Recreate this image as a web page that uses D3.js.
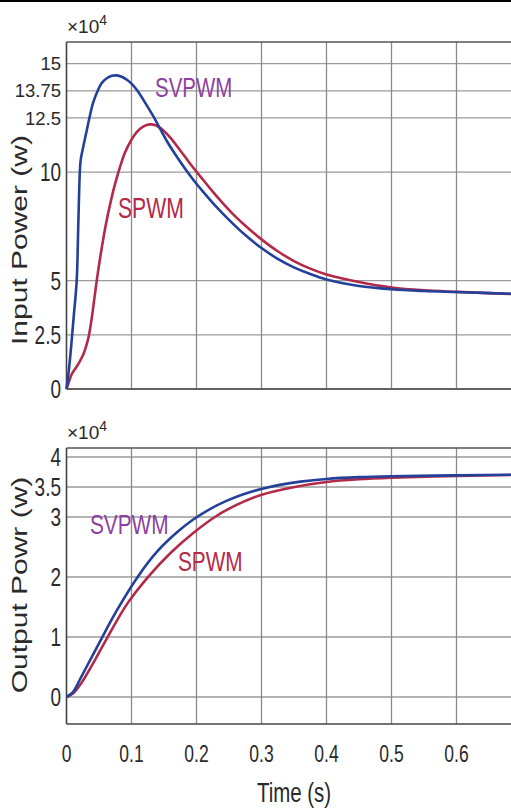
<!DOCTYPE html>
<html>
<head>
<meta charset="utf-8">
<script src="https://cdn.jsdelivr.net/npm/d3@7"></script>
<style>
  body { margin: 0; background: #fff; }
  text { font-family: "Liberation Sans", Arial, sans-serif; fill: #2a2a2a; }
</style>
</head>
<body>
<script>
// ---- data (power in units of 1e4 W) ----
const timeTicks = [0, 0.1, 0.2, 0.3, 0.4, 0.5, 0.6];
const inputTicks = [0, 2.5, 5, 10, 12.5, 13.75, 15];
const outputTicks = [0, 1, 2, 3, 3.5, 4];

const inSvpwmT = [0, 0.003, 0.007, 0.011, 0.0157, 0.018, 0.0205, 0.022, 0.026, 0.031, 0.036, 0.041, 0.048, 0.054, 0.062, 0.07, 0.077, 0.085, 0.093, 0.1, 0.11, 0.123, 0.135, 0.144, 0.155, 0.17, 0.185, 0.195, 0.21, 0.226, 0.25, 0.275, 0.3, 0.325, 0.349, 0.375, 0.4, 0.45, 0.5, 0.55, 0.6, 0.65, 0.7];
const inSvpwmV = [0, 0.7, 1.9, 3.3, 5.0, 7.4, 10.0, 10.6, 11.2, 11.9, 12.6, 13.2, 13.75, 14.1, 14.33, 14.44, 14.46, 14.4, 14.26, 14.08, 13.72, 13.1, 12.5, 12.0, 11.4, 10.7, 10.05, 9.65, 9.1, 8.55, 7.8, 7.1, 6.5, 6.0, 5.62, 5.3, 5.05, 4.75, 4.6, 4.52, 4.47, 4.42, 4.38];

const inSpwmT = [0, 0.004, 0.008, 0.015, 0.02, 0.026, 0.03, 0.034, 0.039, 0.043, 0.047, 0.052, 0.057, 0.062, 0.067, 0.072, 0.077, 0.083, 0.09, 0.1, 0.108, 0.118, 0.128, 0.138, 0.149, 0.16, 0.175, 0.19, 0.21, 0.225, 0.241, 0.26, 0.28, 0.3, 0.325, 0.35, 0.375, 0.4, 0.45, 0.5, 0.55, 0.6, 0.65, 0.7];
const inSpwmV = [0, 0.35, 0.68, 1.0, 1.25, 1.6, 1.95, 2.4, 3.3, 4.2, 5.1, 6.1, 7.0, 7.8, 8.5, 9.15, 9.7, 10.3, 10.9, 11.5, 11.85, 12.1, 12.2, 12.15, 11.92, 11.58, 11.0, 10.4, 9.65, 9.1, 8.55, 7.95, 7.4, 6.9, 6.35, 5.9, 5.55, 5.28, 4.93, 4.68, 4.55, 4.48, 4.42, 4.36];

const outSvpwmT = [0, 0.01, 0.021, 0.05, 0.077, 0.11, 0.14, 0.17, 0.195, 0.22, 0.246, 0.27, 0.298, 0.33, 0.36, 0.4, 0.45, 0.5, 0.6, 0.7];
const outSvpwmV = [0, 0.08, 0.3, 0.895, 1.435, 2.01, 2.43, 2.745, 2.958, 3.128, 3.268, 3.371, 3.463, 3.54, 3.59, 3.634, 3.664, 3.679, 3.694, 3.706];

const outSpwmT = [0, 0.01, 0.021, 0.04, 0.062, 0.093, 0.127, 0.16, 0.195, 0.23, 0.26, 0.298, 0.349, 0.4, 0.45, 0.5, 0.6, 0.7];
const outSpwmV = [0, 0.06, 0.203, 0.545, 0.974, 1.548, 2.02, 2.4, 2.733, 3.013, 3.193, 3.364, 3.497, 3.584, 3.629, 3.654, 3.684, 3.704];

const blue = "#23409a", red = "#b22a47", purple = "#8e3f9f";
const squeeze = 0.73;   // figure text looks horizontally compressed

const W = 511, H = 809;
const svg = d3.select("body").append("svg")
    .attr("width", W).attr("height", H);

// thin black rule across the very top
svg.append("line")
    .attr("x1", 0).attr("x2", W).attr("y1", 1).attr("y2", 1)
    .attr("stroke", "#000").attr("stroke-width", 2);

const x = d3.scaleLinear().domain([0, 0.7]).range([66.5, 521.5]);

function zip(ts, vs) { return ts.map((t, i) => ({ t, v: vs[i] })); }

function squeezedText(g, str, px, py, size, anchor) {
    return g.append("text")
        .attr("transform", `translate(${px},${py}) scale(${squeeze},1)`)
        .attr("text-anchor", anchor)
        .attr("font-size", size)
        .text(str);
}

function panel(opts) {
    const y = d3.scaleLinear().domain(opts.yDomain).range(opts.yRange);
    const g = svg.append("g");
    const top = opts.yRange[1], bottom = opts.yRange[0];

    // grid
    g.selectAll(".hg").data(opts.yTicks).join("line")
        .attr("x1", x(0)).attr("x2", W)
        .attr("y1", d => y(d)).attr("y2", d => y(d))
        .attr("stroke", "#9a9a9a").attr("stroke-width", 1.3);
    g.selectAll(".vg").data(timeTicks.slice(1)).join("line")
        .attr("x1", d => x(d)).attr("x2", d => x(d))
        .attr("y1", top).attr("y2", bottom)
        .attr("stroke", "#8a8a8a").attr("stroke-width", 1.3);

    // box
    g.append("line").attr("x1", x(0)).attr("x2", W).attr("y1", top).attr("y2", top)
        .attr("stroke", "#555").attr("stroke-width", 1.6);
    g.append("line").attr("x1", x(0)).attr("x2", W).attr("y1", bottom).attr("y2", bottom)
        .attr("stroke", "#444").attr("stroke-width", 1.6);
    g.append("line").attr("x1", x(0)).attr("x2", x(0)).attr("y1", top).attr("y2", bottom)
        .attr("stroke", "#444").attr("stroke-width", 1.6);

    // y tick labels
    opts.yTicks.forEach(d => {
        if (opts.smallTicks.includes(d)) {
            g.append("text").attr("x", 61).attr("y", y(d)).attr("dy", "0.36em")
                .attr("text-anchor", "end").attr("font-size", 18.5).text(d);
        } else {
            squeezedText(g, d, 61, y(d) + 9.2, 26, "end");
        }
    });

    // x10^4 exponent
    const e = g.append("text").attr("x", 67).attr("y", top - 9).attr("font-size", 19);
    e.append("tspan").text("\u00d710");
    e.append("tspan").attr("font-size", 14).attr("dy", -8).text("4");

    // y label
    g.append("text")
        .attr("transform", `translate(27,${opts.labelY}) rotate(-90) scale(1,${squeeze})`)
        .attr("text-anchor", "middle").attr("font-size", 30)
        .text(opts.label);

    // curves
    const line = d3.line().x(d => x(d.t)).y(d => y(d.v)).curve(d3.curveCatmullRom.alpha(0.5));
    opts.series.forEach(s => {
        g.append("path").datum(s.data)
            .attr("d", line)
            .attr("fill", "none")
            .attr("stroke", s.color)
            .attr("stroke-width", 2.6)
            .attr("stroke-linejoin", "round");
    });

    // curve labels
    opts.tags.forEach(tg => {
        squeezedText(g, tg.text, tg.x, tg.y, tg.size, "start").style("fill", tg.color);
    });
}

panel({
    yDomain: [0, 16], yRange: [389, 42], yTicks: inputTicks,
    smallTicks: [12.5, 13.75, 15],
    label: "Input Power (w)", labelY: 240,
    series: [
        { data: zip(inSpwmT, inSpwmV), color: red },
        { data: zip(inSvpwmT, inSvpwmV), color: blue }
    ],
    tags: [
        { text: "SVPWM", x: 155, y: 97, size: 28, color: purple },
        { text: "SPWM", x: 118, y: 218, size: 29, color: red }
    ]
});

panel({
    yDomain: [-0.45, 4.15], yRange: [724, 448], yTicks: outputTicks,
    smallTicks: [],
    label: "Output Powr (w)", labelY: 585,
    series: [
        { data: zip(outSpwmT, outSpwmV), color: red },
        { data: zip(outSvpwmT, outSvpwmV), color: blue }
    ],
    tags: [
        { text: "SVPWM", x: 90, y: 534, size: 28.5, color: purple },
        { text: "SPWM", x: 178, y: 571, size: 28.5, color: red }
    ]
});

// x tick labels and title
timeTicks.forEach(t => squeezedText(svg, t, x(t), 762, 24, "middle"));
squeezedText(svg, "Time (s)", x(0.35), 802, 28, "middle");
</script>
</body>
</html>
